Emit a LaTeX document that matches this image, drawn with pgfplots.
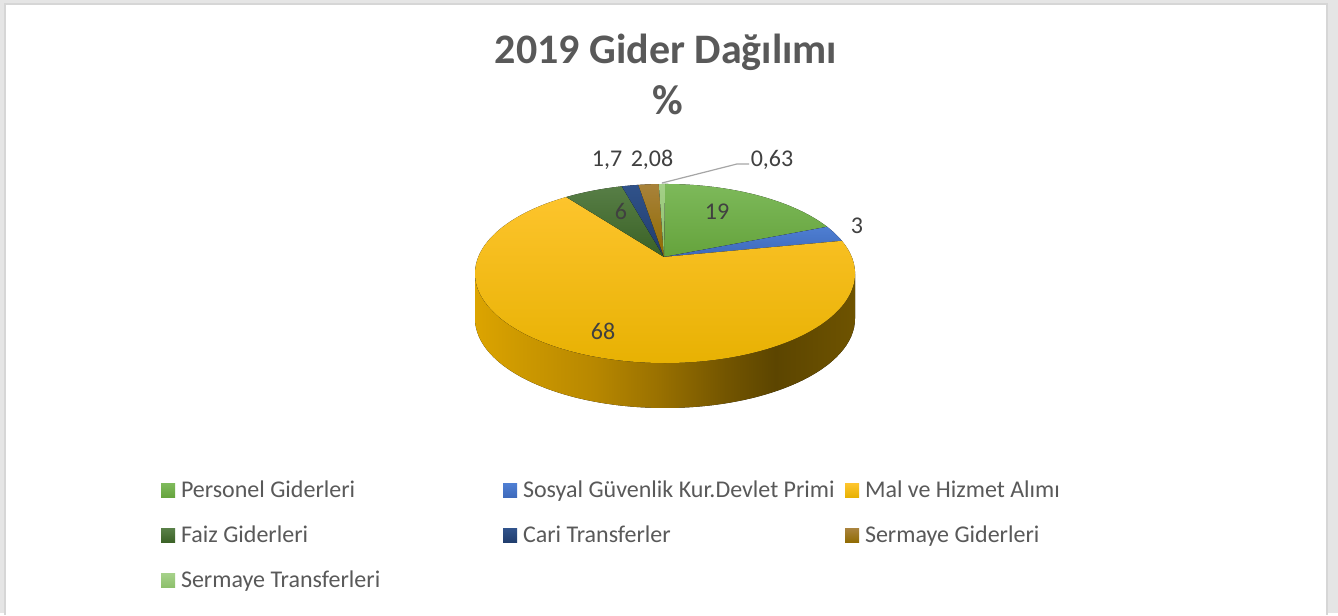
\documentclass[border=0pt]{standalone}
\usepackage{fontspec}
\setmainfont{Carlito}
\usepackage{pgfplots}
\usepackage{pgfplotstable}
\pgfplotsset{compat=1.18}
% slice colours: t = top of gradient, b = bottom, plain = legend
\definecolor{c0t}{HTML}{7DB95A}\definecolor{c0b}{HTML}{65A33C}\definecolor{c0}{HTML}{70AD47}
\definecolor{c1t}{HTML}{4E7ED2}\definecolor{c1b}{HTML}{3D69BA}\definecolor{c1}{HTML}{4472C4}
\definecolor{c2t}{HTML}{FDC42C}\definecolor{c2b}{HTML}{E6B000}\definecolor{c2}{HTML}{FFC000}
\definecolor{c3t}{HTML}{577E46}\definecolor{c3b}{HTML}{3A6125}\definecolor{c3}{HTML}{43682B}
\definecolor{c4t}{HTML}{30528A}\definecolor{c4b}{HTML}{203C6C}\definecolor{c4}{HTML}{264478}
\definecolor{c5t}{HTML}{A8823A}\definecolor{c5b}{HTML}{8F6A00}\definecolor{c5}{HTML}{997300}
\definecolor{c6t}{HTML}{A4D088}\definecolor{c6b}{HTML}{8CBF6A}\definecolor{c6}{HTML}{9BC77F}
\definecolor{bgray}{HTML}{E5E5E5}
\definecolor{framegray}{HTML}{D6D6D6}
\definecolor{titlegray}{HTML}{595959}
\definecolor{lblgray}{HTML}{404040}
\definecolor{leadgray}{HTML}{A6A6A6}
\definecolor{s1}{HTML}{DCA400}\definecolor{s2}{HTML}{CC9800}\definecolor{s3}{HTML}{B88800}
\definecolor{s4}{HTML}{9A7100}\definecolor{s5}{HTML}{735500}\definecolor{s6}{HTML}{5C4500}
\definecolor{s7}{HTML}{6E5300}
\pgfdeclarehorizontalshading{sideshade}{100bp}{color(0bp)=(s1); color(25bp)=(s1);
  color(31.5bp)=(s2); color(40.5bp)=(s3); color(49bp)=(s4); color(58bp)=(s5);
  color(64.5bp)=(s6); color(75bp)=(s7); color(100bp)=(s7)}
% perspective mapping of a true angle #1 to the parametric angle of the drawn ellipse
\newcommand\phiToT[2]{%
  \pgfmathsetmacro\pdd{1+0.184*sin(#1)}%
  \pgfmathsetmacro\pxx{186.7*cos(#1)/\pdd}%
  \pgfmathsetmacro\pyy{86.5*sin(#1)/\pdd}%
  \pgfmathsetmacro\ptt{atan2((\pyy+16.5)/89.5,\pxx/190)}%
  \xdef#2{\ptt}}
\begin{document}
\begin{tikzpicture}
\pgfplotstableread[col sep=comma]{
label,value
Personel Giderleri,19
Sosyal Güvenlik Kur.Devlet Primi,3
Mal ve Hizmet Alımı,68
Faiz Giderleri,6
Cari Transferler,1.7
Sermaye Giderleri,2.08
Sermaye Transferleri,0.63
}\gider
\xdef\total{0}
\pgfplotstableforeachcolumnelement{value}\of\gider\as\val{%
  \pgfmathsetmacro\tmp{\total+\val}\xdef\total{\tmp}}
\xdef\cum{0}
\pgfplotstableforeachcolumnelement{value}\of\gider\as\val{%
  \pgfmathsetmacro\phiA{90-360*(\cum/\total)}%
  \pgfmathsetmacro\tmp{\cum+\val}\xdef\cum{\tmp}%
  \pgfmathsetmacro\phiB{90-360*(\cum/\total)}%
  \phiToT{\phiA}\tA
  \phiToT{\phiB}\tB
  \pgfmathsetmacro\tE{(\tB>\tA-0.01) ? (\tB-360) : \tB}%
  \expandafter\xdef\csname ts\pgfplotstablerow\endcsname{\tA}%
  \expandafter\xdef\csname te\pgfplotstablerow\endcsname{\tE}%
}
\begin{axis}[
  x=0.5pt, y=0.5pt, xmin=0, xmax=1338, ymin=0, ymax=613,
  hide axis, clip=false,
  legend columns=3,
  legend cell align=left,
  legend image code/.code={\fill[#1, draw=none] (0pt,0pt) rectangle (7pt,7pt);},
  legend style={at={(axis cs:161,133)}, anchor=north west, draw=none, fill=none,
    inner sep=0pt, outer sep=0pt, row sep=10.5pt,
    font=\fontsize{12}{14}\selectfont, text=titlegray,
    nodes={inner sep=0pt, outer sep=0pt, anchor=base west, text height=9pt, text depth=3pt},
    /tikz/every odd column/.append style={column sep=3pt},
    /tikz/every even column/.append style={column sep=0pt}},
]
\fill[bgray] (axis cs:0,0) rectangle (axis cs:1338,613);
\fill[white] (axis cs:5,0) rectangle (axis cs:1327,609);
\draw[framegray, line width=0.75pt] (axis cs:5,-2) -- (axis cs:5,609) -- (axis cs:1327,609) -- (axis cs:1327,-2);
% side of the pie
\fill[shading=sideshade] (axis cs:475,339.5) arc[start angle=180, end angle=360, x radius=95pt, y radius=44.75pt]
  -- ++(0pt,-22.5pt) arc[start angle=360, end angle=180, x radius=95pt, y radius=44.75pt] -- cycle;
% top faces of the slices
\pgfplotsinvokeforeach{0,1,2,3,4,5,6}{
  \fill[top color=c#1t, bottom color=c#1b]
    (axis cs:664,356) -- (axis cs:{665+190*cos(\csname ts#1\endcsname)},{339.5+89.5*sin(\csname ts#1\endcsname)})
    arc[start angle=\csname ts#1\endcsname, end angle=\csname te#1\endcsname, x radius=95pt, y radius=44.75pt] -- cycle;
}
% title
\node[anchor=base, font=\fontsize{21}{25}\selectfont\bfseries, text=titlegray] at (axis cs:666,549) {2019 Gider Dağılımı};
\node[anchor=base, font=\fontsize{21}{25}\selectfont\bfseries, text=titlegray] at (axis cs:668,498) {\%};
% data labels
\tikzset{lbl/.style={anchor=base, inner sep=0pt, font=\fontsize{12}{14}\selectfont, text=lblgray}}
\node[lbl] at (axis cs:717,393) {19};
\node[lbl] at (axis cs:857,379) {3};
\node[lbl] at (axis cs:603,273) {68};
\node[lbl] at (axis cs:621,393) {6};
\node[lbl] at (axis cs:607,446) {1,7};
\node[lbl] at (axis cs:652,446) {2,08};
\node[lbl] at (axis cs:772,446) {0,63};
\draw[leadgray, line width=0.6pt] (axis cs:662,430) -- (axis cs:737,449) -- (axis cs:749,449);
% legend
\addlegendimage{top color=c0t, bottom color=c0b, draw=none}
\addlegendentry{\makebox[161pt][l]{Personel Giderleri}}
\addlegendimage{top color=c1t, bottom color=c1b, draw=none}
\addlegendentry{\makebox[161pt][l]{Sosyal Güvenlik Kur.Devlet Primi}}
\addlegendimage{top color=c2t, bottom color=c2b, draw=none}
\addlegendentry{\makebox[161pt][l]{Mal ve Hizmet Alımı}}
\addlegendimage{top color=c3t, bottom color=c3b, draw=none}
\addlegendentry{\makebox[161pt][l]{Faiz Giderleri}}
\addlegendimage{top color=c4t, bottom color=c4b, draw=none}
\addlegendentry{\makebox[161pt][l]{Cari Transferler}}
\addlegendimage{top color=c5t, bottom color=c5b, draw=none}
\addlegendentry{\makebox[161pt][l]{Sermaye Giderleri}}
\addlegendimage{top color=c6t, bottom color=c6b, draw=none}
\addlegendentry{\makebox[161pt][l]{Sermaye Transferleri}}
\end{axis}
\end{tikzpicture}
\end{document}
